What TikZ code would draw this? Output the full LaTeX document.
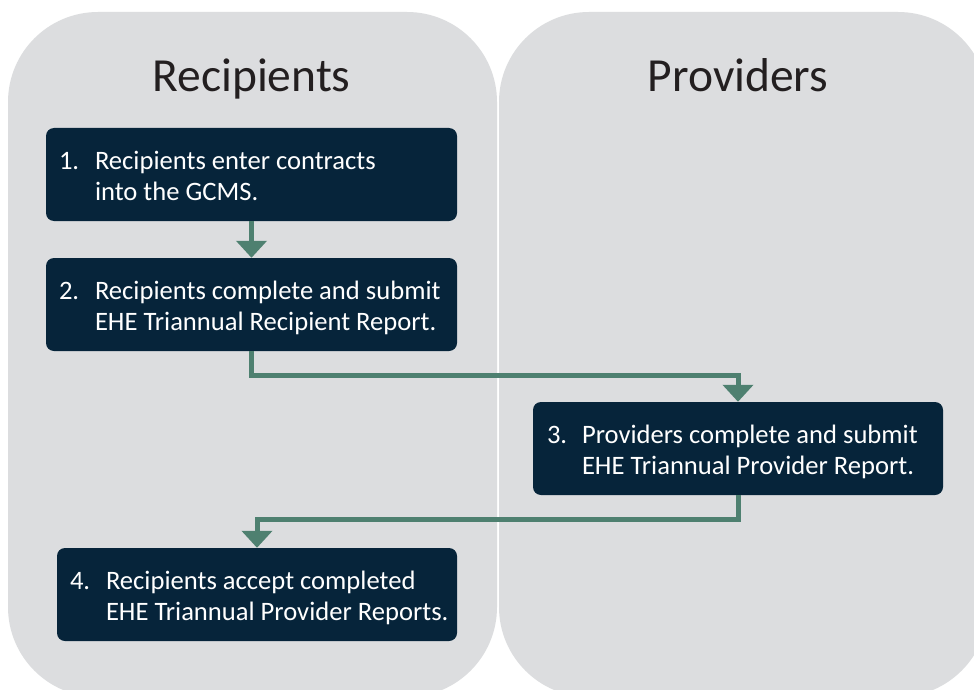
\documentclass[tikz,border=0pt]{standalone}
\usepackage{fontspec}
\setmainfont{Carlito}
\usetikzlibrary{arrows.meta,calc}
\definecolor{panelgray}{HTML}{DCDDDF}
\definecolor{boxnavy}{HTML}{06243A}
\definecolor{arrowgreen}{HTML}{4E8070}
\definecolor{titleink}{HTML}{231F20}
\tikzset{
  panel/.style={fill=panelgray, draw=none, rounded corners=90pt},
  stepbox/.style={fill=boxnavy, draw=none, rounded corners=8pt, inner sep=0pt},
  steptext/.style={anchor=base west, inner sep=0pt, text=white, font=\fontsize{26.6}{31}\selectfont},
  lanetitle/.style={anchor=base, inner sep=0pt, text=titleink, font=\fontsize{47.5}{55}\selectfont},
  flow/.style={draw=arrowgreen, line width=5pt, -{Triangle[width=30pt,length=17pt]}, arrowgreen}
}
\begin{document}
\begin{tikzpicture}[x=1pt,y=-1pt]
\useasboundingbox (0,0) rectangle (974,690);
\clip (0,0) rectangle (974,690);
\fill[white] (0,0) rectangle (974,690);
% lanes
\path[panel] (8,12) rectangle (497,697);
\path[panel] (499,12) rectangle (988,697);
\node[lanetitle] (tR) at (251.5,92) {Recipients};
\node[lanetitle] (tP) at (738,92) {Providers};
% boxes
\node[stepbox, minimum width=411pt, minimum height=93pt] (b1) at (251.5,174.5) {};
\node[stepbox, minimum width=411pt, minimum height=93pt] (b2) at (251.5,304.5) {};
\node[stepbox, minimum width=410pt, minimum height=93pt] (b3) at (738,448.5) {};
\node[stepbox, minimum width=400pt, minimum height=93pt] (b4) at (257,594.5) {};
% texts
\node[steptext] (n1) at ($(b1.north west)+(13,42)$) {1.};
\node[steptext] (l1a) at ($(b1.north west)+(49,42)$) {Recipients enter contracts};
\node[steptext] (l1b) at ($(b1.north west)+(49,73)$) {into the GCMS.};
\node[steptext] (n2) at ($(b2.north west)+(13,42)$) {2.};
\node[steptext] (l2a) at ($(b2.north west)+(49,42)$) {Recipients complete and submit};
\node[steptext] (l2b) at ($(b2.north west)+(49,73)$) {EHE Triannual Recipient Report.};
\node[steptext] (n3) at ($(b3.north west)+(14,42)$) {3.};
\node[steptext] (l3a) at ($(b3.north west)+(49,42)$) {Providers complete and submit};
\node[steptext] (l3b) at ($(b3.north west)+(49,73)$) {EHE Triannual Provider Report.};
\node[steptext] (n4) at ($(b4.north west)+(13,42)$) {4.};
\node[steptext] (l4a) at ($(b4.north west)+(49,42)$) {Recipients accept completed};
\node[steptext] (l4b) at ($(b4.north west)+(49,73)$) {EHE Triannual Provider Reports.};
% connectors
\draw[flow] (b1.south) -- (b2.north);
\draw[flow] (b2.south) -- ++(0,24) -| (b3.north);
\draw[flow] (b3.south) -- ++(0,24) -| (b4.north);
\end{tikzpicture}
\end{document}
